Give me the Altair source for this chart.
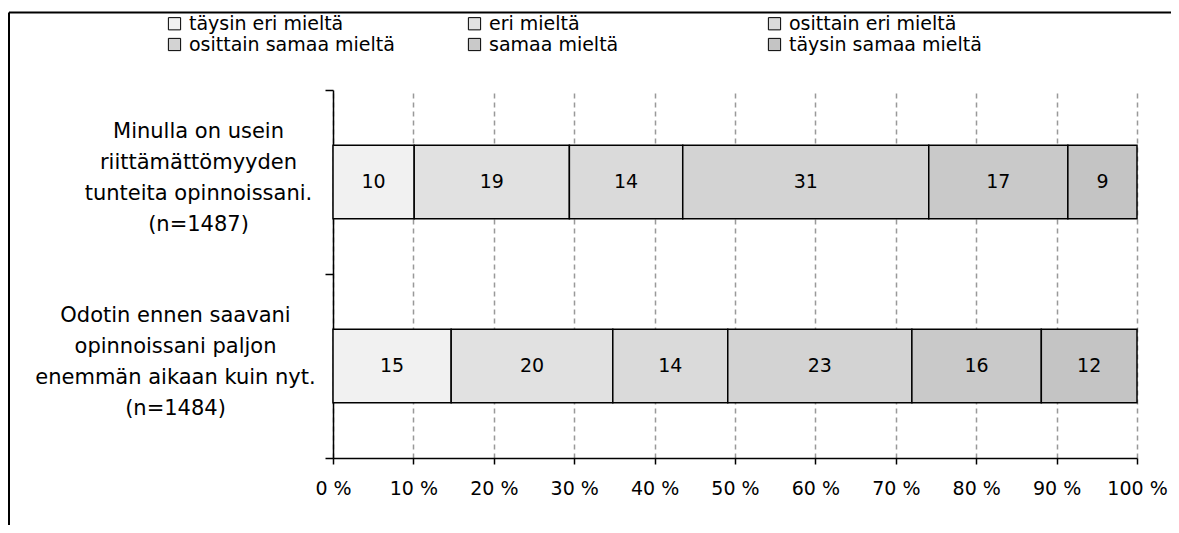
import altair as alt
import pandas as pd

FONT = "DejaVu Sans"

questions = [
    "Minulla on usein|riittämättömyyden|tunteita opinnoissani.|(n=1487)",
    "Odotin ennen saavani|opinnoissani paljon|enemmän aikaan kuin nyt.|(n=1484)",
]
categories = [
    "täysin eri mieltä",
    "eri mieltä",
    "osittain eri mieltä",
    "osittain samaa mieltä",
    "samaa mieltä",
    "täysin samaa mieltä",
]
values_q1 = [10.1, 19.3, 14.1, 30.6, 17.3, 8.6]
values_q2 = [14.7, 20.1, 14.3, 22.9, 16.1, 11.9]
colors = ["#f1f1f1", "#e1e1e1", "#dadada", "#d3d3d3", "#c9c9c9", "#c4c4c4"]
x_ticks = [0, 10, 20, 30, 40, 50, 60, 70, 80, 90, 100]

rows = []
for q, vals in zip(questions, [values_q1, values_q2]):
    for i, (c, v) in enumerate(zip(categories, vals)):
        rows.append({"question": q, "category": c, "order": i, "value": v})
df = pd.DataFrame(rows)

W, H = 804, 368
LINE_H = 31

y_scale = alt.Scale(domain=questions, paddingInner=0, paddingOuter=0)
y_axis = alt.Axis(
    title=None,
    labelExpr="split(datum.label, '|')",
    tickBand="extent",
    tickSize=8,
    tickColor="black",
    tickWidth=1.5,
    domainColor="black",
    domainWidth=1.5,
    labelFont=FONT,
    labelFontSize=21,
    labelLineHeight=LINE_H,
    labelColor="black",
    labelAlign="center",
    labelBaseline="middle",
    labelOffset=-51,
    labelLimit=500,
    labelPadding={
        "condition": {"test": "indexof(datum.label, 'Minulla') >= 0", "value": 127},
        "value": 150,
    },
    grid=False,
)
x_axis = alt.Axis(
    title=None,
    values=x_ticks,
    labelExpr="datum.value + ' %'",
    grid=True,
    gridDash=[5, 4],
    gridColor="#999999",
    gridWidth=1.5,
    domainColor="black",
    domainWidth=1.5,
    tickColor="black",
    tickWidth=1.5,
    tickSize=6,
    labelFont=FONT,
    labelFontSize=19,
    labelColor="black",
    labelPadding=15,
    labelFlush=False,
    labelOverlap=False,
)

legend = alt.Legend(
    title=None,
    orient="none",
    legendX=-168,
    legendY=-76,
    direction="horizontal",
    columns=3,
    gridAlign="all",
    columnPadding=70,
    rowPadding=1,
    symbolType="square",
    symbolSize=150,
    symbolStrokeColor="black",
    symbolStrokeWidth=1,
    symbolOpacity=1,
    labelFont=FONT,
    labelFontSize=19,
    labelColor="black",
    labelLimit=500,
    labelOffset=5,
)

base = alt.Chart(df)

bars = base.mark_bar(height={"band": 0.4}, stroke="black", strokeWidth=1.5, opacity=1).encode(
    x=alt.X("value:Q", stack="zero", scale=alt.Scale(domain=[0, 100], nice=False), axis=x_axis),
    y=alt.Y("question:N", sort=questions, scale=y_scale, axis=y_axis),
    color=alt.Color("category:N", scale=alt.Scale(domain=categories, range=colors), legend=legend),
    order=alt.Order("order:Q"),
)

labels = (
    base.transform_window(cum="sum(value)", groupby=["question"], sort=[alt.SortField("order")])
    .transform_calculate(mid="datum.cum - datum.value / 2", lbl="format(datum.value, '.0f')")
    .mark_text(font=FONT, fontSize=19, color="black", baseline="middle", align="center")
    .encode(
        x=alt.X("mid:Q"),
        y=alt.Y("question:N", sort=questions),
        text="lbl:N",
    )
)

frame_df = pd.DataFrame({"k": [0]})
top_border = alt.Chart(frame_df).mark_rule(color="black", strokeWidth=2).encode(
    x=alt.value(-324), x2=alt.value(W + 40), y=alt.value(-77.5)
)
left_border = alt.Chart(frame_df).mark_rule(color="black", strokeWidth=2).encode(
    x=alt.value(-324), y=alt.value(-77.5), y2=alt.value(H + 70)
)

chart = (
    alt.layer(bars, labels, top_border, left_border)
    .properties(
        width=W,
        height=H,
        padding={"left": 325, "top": 82, "right": 34, "bottom": 67},
        autosize=alt.AutoSizeParams(type="none"),
        background="white",
    )
    .configure_view(stroke=None)
)

chart.save("out.html", embed_options={"renderer": "svg", "actions": False})
